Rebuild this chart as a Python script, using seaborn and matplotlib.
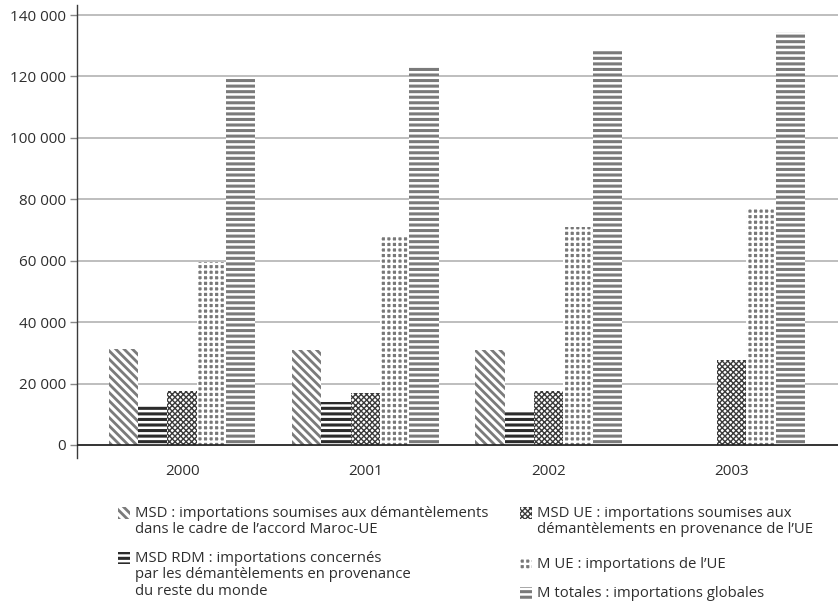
import numpy as np
import pandas as pd
import seaborn as sns
import matplotlib
matplotlib.use("Agg")
import matplotlib.pyplot as plt
from matplotlib.patches import Rectangle
from matplotlib.ticker import FuncFormatter

# Imports (values) by year
years = ["2000", "2001", "2002", "2003"]
msd = [31200, 30800, 30800, np.nan]
msd_rdm = [12700, 13900, 10900, np.nan]
msd_ue = [17600, 16900, 17500, 27600]
m_ue = [59500, 68300, 70900, 77100]
m_totales = [119500, 123200, 128900, 134500]

series = ["MSD", "MSD RDM", "MSD UE", "M UE", "M totales"]
legend_labels = [
    "MSD : importations soumises aux démantèlements\ndans le cadre de l\u2019accord Maroc-UE",
    "MSD RDM : importations concernés\npar les démantèlements en provenance\ndu reste du monde",
    "MSD UE : importations soumises aux\ndémantèlements en provenance de l\u2019UE",
    "M UE : importations de l\u2019UE",
    "M totales : importations globales",
]
y_ticks = [0, 20000, 40000, 60000, 80000, 100000, 120000, 140000]

# face colour, hatch, hatch colour, hatch line width for each series
styles = {
    "MSD": ("white", "\\\\\\\\", "#7b7b7b", 2.0),
    "MSD RDM": ("white", "---", "#2b2b2b", 2.2),
    "MSD UE": ("white", "xxxxxx", "#3a3a3a", 1.0),
    "M UE": ("#777777", "+++", "white", 1.7),
    "M totales": ("white", "---", "#7a7a7a", 2.2),
}

df = pd.DataFrame({
    "year": np.repeat(years, len(series)),
    "series": series * len(years),
    "value": np.array([msd, msd_rdm, msd_ue, m_ue, m_totales]).T.ravel(),
}).dropna()

sns.set_theme(style="white")
plt.rcParams["font.family"] = ["Open Sans", "DejaVu Sans"]
text_color = "#2e2e2e"

fig = plt.figure(figsize=(8.38, 6.03), dpi=100)
W, H = 838, 603
ax = fig.add_axes([77 / W, (H - 458) / H, 761 / W, 453 / H])

sns.barplot(data=df, x="year", y="value", hue="series", hue_order=series,
            order=years, width=0.8, dodge=True, legend=False,
            palette=["white"] * len(series), saturation=1, errorbar=None, ax=ax)


def style_patch(p, name):
    face, hatch, col, hlw = styles[name]
    p.set_facecolor(face)
    p.set_edgecolor(col)
    p.set_linewidth(0)
    p.set_hatch(hatch)
    if hasattr(p, "set_hatch_linewidth"):
        p.set_hatch_linewidth(hlw)


for cont, name in zip(ax.containers, series):
    for bar in cont:
        style_patch(bar, name)

ax.set_xlim(-0.574, 3.58)
ax.set_ylim(-4233, 143256)
ax.set_yticks(y_ticks)
ax.yaxis.set_major_formatter(FuncFormatter(lambda v, _: f"{v:,.0f}".replace(",", " ")))
ax.set_axisbelow(True)
ax.yaxis.grid(True, color="#b9b9b9", linewidth=1.3)
ax.axhline(0, color="#1e1e1e", linewidth=1.2, zorder=5)

for s in ["top", "right", "bottom"]:
    ax.spines[s].set_visible(False)
ax.spines["left"].set_color("#3a3a3a")
ax.spines["left"].set_linewidth(1.0)

ax.tick_params(axis="y", length=5, width=1, color="#888888", pad=3,
               labelsize=11, labelcolor=text_color, left=True)
ax.tick_params(axis="x", length=0, pad=4, labelsize=11, labelcolor=text_color)
ax.set_xlabel("")
ax.set_ylabel("")

# Legend below the plot, two columns
def fx(px):
    return px / W


def fy(py):
    return 1 - py / H


legend_pos = [
    (118, 507, 0), (118, 552, 1),
    (520, 507, 2), (520, 558, 3), (520, 587, 4),
]
for (px, py, i) in legend_pos:
    name = series[i]
    r = Rectangle((fx(px), fy(py + 12)), 12 / W, 12 / H, transform=fig.transFigure)
    style_patch(r, name)
    fig.add_artist(r)
    fig.text(fx(px + 17), fy(py - 1), legend_labels[i], ha="left", va="top",
             fontsize=10.7, color=text_color, linespacing=1.12)

fig.savefig("out.png", dpi=100)
